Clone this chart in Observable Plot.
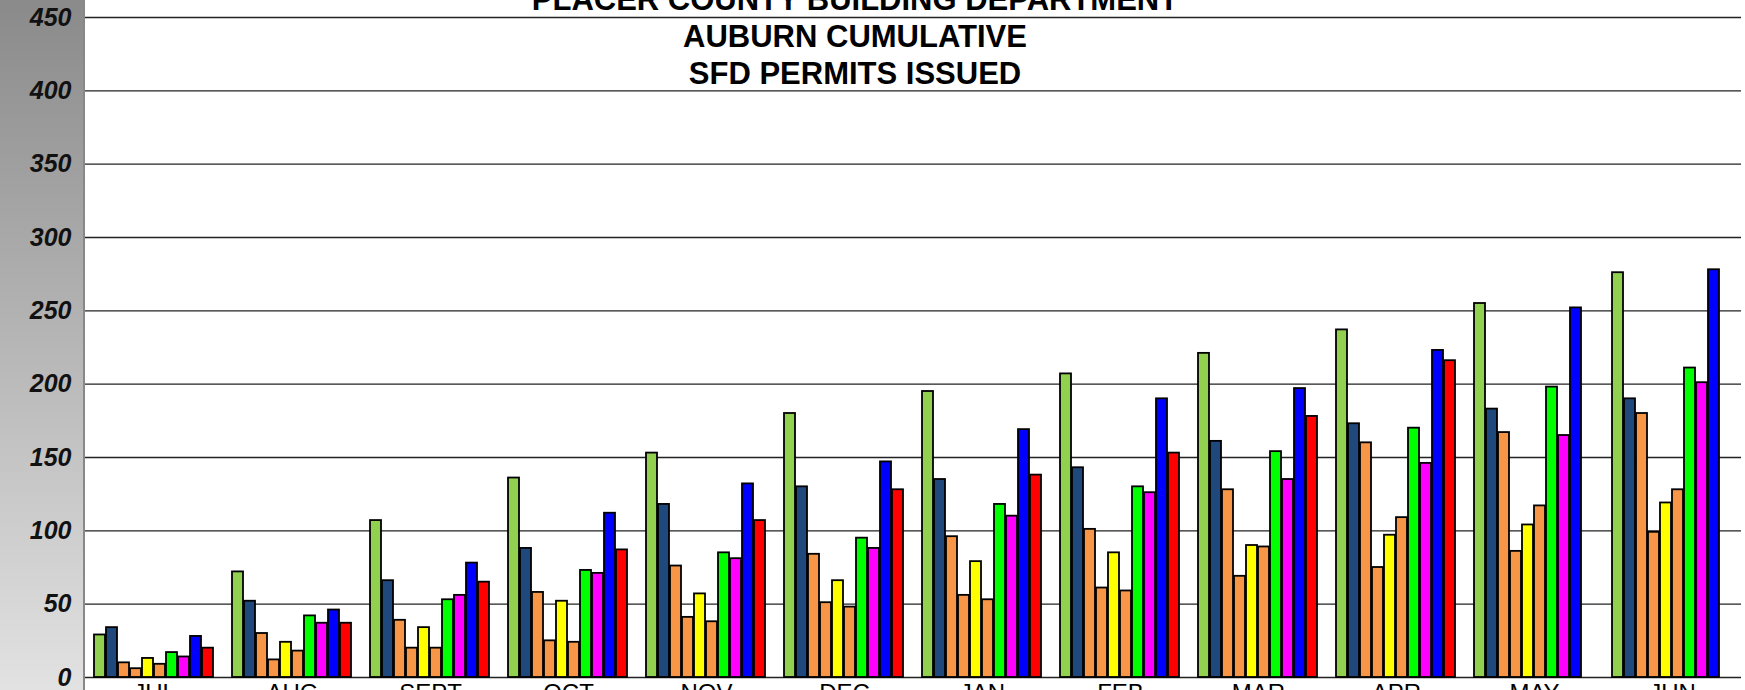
<!DOCTYPE html>
<html>
<head>
<meta charset="utf-8">
<script src="https://cdn.jsdelivr.net/npm/d3@7"></script>
<script src="https://cdn.jsdelivr.net/npm/@observablehq/plot@0.6"></script>
<style>
  body { margin: 0; overflow: hidden; background: #fff; font-family: "Liberation Sans", Arial, sans-serif; }
  #wrap { position: relative; width: 1745px; height: 690px; overflow: hidden; background: #fff; }
  #side { position: absolute; left: 0; top: 0; width: 83px; height: 690px;
    background: linear-gradient(to bottom, #8a8a8a, #e2e2e2); border-right: 2px solid #888; }
  #chart { position: absolute; left: 0; top: 0; }
  #title { position: absolute; left: 83px; width: 1544px; top: -19px; text-align: center;
    font-weight: bold; font-size: 31px; line-height: 37px; color: #000; }
</style>
</head>
<body>
<div id="wrap">
  <div id="side"></div>
  <div id="chart"></div>
  <div id="title">PLACER COUNTY BUILDING DEPARTMENT<br>AUBURN CUMULATIVE<br>SFD PERMITS ISSUED</div>
</div>
<script>
const months = ["JUL", "AUG", "SEPT", "OCT", "NOV", "DEC", "JAN", "FEB", "MAR", "APR", "MAY", "JUN"];
const seriesNames = ["S1", "S2", "S3", "S4", "S5", "S6", "S7", "S8", "S9", "S10"];
const seriesColors = ["#92d050", "#1f497d", "#f79646", "#f79646", "#ffff00", "#f79646", "#00ff00", "#ff00ff", "#0000ff", "#ff0000"];

// cumulative permits per month, one row per month, one value per series
const values = [
  [29, 34, 10, 6, 13, 9, 17, 14, 28, 20],
  [72, 52, 30, 12, 24, 18, 42, 37, 46, 37],
  [107, 66, 39, 20, 34, 20, 53, 56, 78, 65],
  [136, 88, 58, 25, 52, 24, 73, 71, 112, 87],
  [153, 118, 76, 41, 57, 38, 85, 81, 132, 107],
  [180, 130, 84, 51, 66, 48, 95, 88, 147, 128],
  [195, 135, 96, 56, 79, 53, 118, 110, 169, 138],
  [207, 143, 101, 61, 85, 59, 130, 126, 190, 153],
  [221, 161, 128, 69, 90, 89, 154, 135, 197, 178],
  [237, 173, 160, 75, 97, 109, 170, 146, 223, 216],
  [255, 183, 167, 86, 104, 117, 198, 165, 252, null],
  [276, 190, 180, 99, 119, 128, 211, 201, 278, null]
];
const yTicks = [0, 50, 100, 150, 200, 250, 300, 350, 400, 450];

const data = [];
months.forEach((m, i) => {
  values[i].forEach((v, j) => {
    if (v != null) data.push({ month: m, series: seriesNames[j], value: v });
  });
});

const chart = Plot.plot({
  width: 1745,
  height: 690,
  marginLeft: 84,
  marginRight: 3,
  marginTop: 17,
  marginBottom: 13,
  style: { background: "transparent", fontFamily: "Liberation Sans, Arial, sans-serif" },
  fx: { domain: months, padding: 0, axis: null },
  x: { domain: seriesNames, axis: null, paddingInner: 0.08, paddingOuter: 0.5 },
  y: { domain: [0, 450], ticks: yTicks, axis: null, label: null },
  color: { domain: seriesNames, range: seriesColors },
  marks: [
    Plot.gridY(yTicks, { stroke: "#222", strokeOpacity: 1, strokeWidth: 1.3 }),
    Plot.axisY(yTicks, {
      anchor: "left", tickSize: 0, tickPadding: 14, label: null,
      fontSize: 25, fontWeight: "bold", fontStyle: "italic", fill: "#111"
    }),
    Plot.barY(data, {
      fx: "month", x: "series", y: "value", fill: "series",
      stroke: "#000", strokeWidth: 1.8
    }),
    Plot.axisFx({ anchor: "bottom", tickSize: 0, tickPadding: 6, fontSize: 24, label: null })
  ]
});
document.getElementById("chart").appendChild(chart);
</script>
</body>
</html>
